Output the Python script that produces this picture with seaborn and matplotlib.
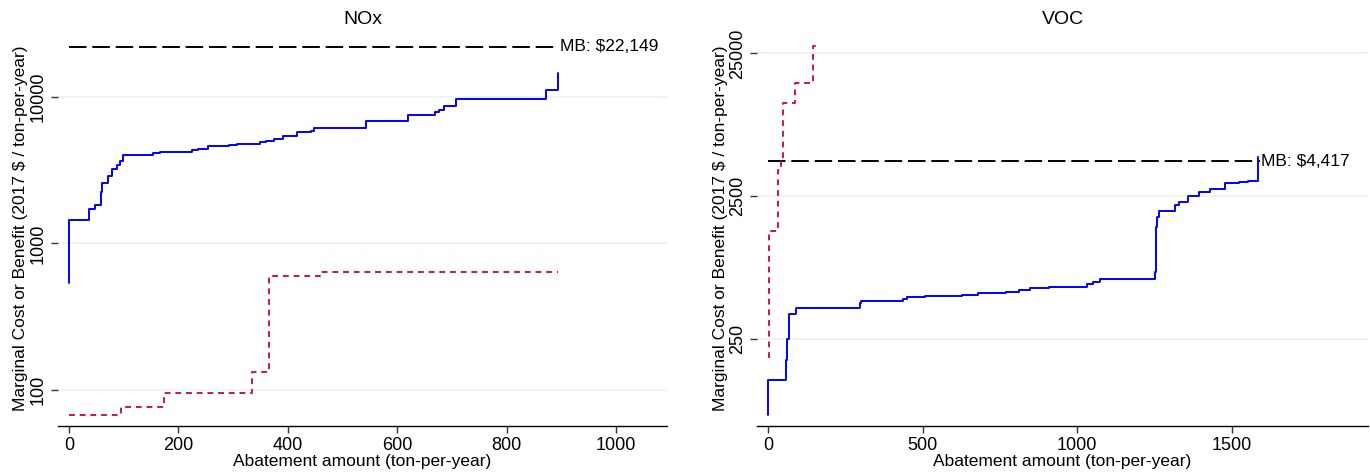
import numpy as np
import pandas as pd
import matplotlib
matplotlib.use("Agg")
import matplotlib.pyplot as plt
import seaborn as sns

# NOx marginal cost curve (step starts)
nox_cost_x = [0, 0, 36.6, 47, 59, 61, 71.5, 79, 87, 93.5, 98, 154.5, 167, 225, 236, 254, 293,
              306.5, 350, 360, 374, 392, 417, 443, 447, 542, 620, 654, 669, 676, 685, 707, 872, 893]
nox_cost_y = [535, 1452, 1718, 1843, 2235, 2588, 2877, 3200, 3424, 3646, 4010, 4160, 4228, 4339,
              4430, 4596, 4692, 4766, 4920, 5024, 5212, 5462, 5758, 5912, 6195, 6849, 7490, 7600,
              7937, 8148, 8676, 9640, 11160, 14690]
nox_alt_x = [0, 95, 173, 335, 366, 459, 894]
nox_alt_y = [67, 75.7, 94.4, 132.8, 594, 637, 637]
nox_mb = 22149
nox_max = 894

# VOC marginal cost curve
voc_cost_x = [0, 0, 57, 60, 67, 88, 298, 300, 436, 450, 507, 628, 678, 770, 812, 848, 909, 1033,
              1051, 1075, 1253, 1256, 1260, 1265, 1317, 1331, 1359, 1395, 1430, 1480, 1523, 1554, 1587]
voc_cost_y = [74, 131, 179, 250, 376, 412, 447, 466, 479, 497, 505, 510, 524, 536, 553, 574, 583,
              606, 632, 656, 743, 1533, 1803, 1985, 2175, 2271, 2514, 2668, 2815, 3085, 3171, 3203, 4700]
voc_alt_x = [3, 3, 32, 40, 48, 87, 145, 162]
voc_alt_y = [184, 1430, 3820, 4490, 11300, 15600, 28100, 28100]
voc_mb = 4417
voc_max = 1591

sns.set_style("white")
plt.rcParams['font.family'] = ['Liberation Sans', 'DejaVu Sans']
plt.rcParams['font.size'] = 12.5
plt.rcParams['text.color'] = 'black'
plt.rcParams['axes.labelcolor'] = 'black'
plt.rcParams['xtick.color'] = 'black'
plt.rcParams['ytick.color'] = 'black'

fig = plt.figure(figsize=(13.7, 4.74), dpi=100)
ax1 = fig.add_axes([58/1370, 1 - 426/474, 609/1370, 396/474])
ax2 = fig.add_axes([757/1370, 1 - 426/474, 611/1370, 396/474])

panels = [
    (ax1, "NOx", nox_cost_x, nox_cost_y, nox_alt_x, nox_alt_y, nox_mb, nox_max,
     (-20, 1093), (56.4, 28770), [0, 200, 400, 600, 800, 1000], [100, 1000, 10000]),
    (ax2, "VOC", voc_cost_x, voc_cost_y, voc_alt_x, voc_alt_y, voc_mb, voc_max,
     (-37, 1942), (62, 36400), [0, 500, 1000, 1500], [250, 2500, 25000]),
]

for ax, title, cx, cy, ax_, ay, mb, mx, xl, yl, xt, yt in panels:
    ax.set_yscale("log")
    for v in yt:
        ax.axhline(v, color="#eaf2f3", lw=1.2, zorder=0)
    mb_df = pd.DataFrame({"x": [0, mx], "y": [mb, mb]})
    sns.lineplot(data=mb_df, x="x", y="y", ax=ax, color="black", lw=1.4,
                 linestyle=(0, (9, 3)), sort=False, estimator=None)
    cost_df = pd.DataFrame({"x": cx, "y": cy})
    sns.lineplot(data=cost_df, x="x", y="y", ax=ax, color="#0000ff", lw=1.4,
                 drawstyle="steps-post", sort=False, estimator=None)
    alt_df = pd.DataFrame({"x": ax_, "y": ay})
    sns.lineplot(data=alt_df, x="x", y="y", ax=ax, color="#d4143c", lw=1.4,
                 linestyle=(0, (3, 2.5)), drawstyle="steps-post", sort=False, estimator=None)
    ax.annotate(f"MB: ${mb:,}", (mx, mb), xytext=(1, 0), textcoords="offset points",
                ha="left", va="center", fontsize=12.5)
    ax.set_xlim(*xl)
    ax.set_ylim(*yl)
    ax.set_xticks(xt)
    ax.set_yticks(yt)
    ax.set_yticklabels([str(v) for v in yt], rotation=90, va="center")
    ax.minorticks_off()
    ax.tick_params(axis="both", direction="out", length=5, width=1, color="#333333",
                   labelsize=13, pad=3, left=True, bottom=True)
    for s in ["top", "right", "left"]:
        ax.spines[s].set_visible(False)
    ax.spines["bottom"].set_color("black")
    ax.spines["bottom"].set_linewidth(1)
    ax.set_title(title, fontsize=14, pad=4)
    ax.set_xlabel("Abatement amount (ton-per-year)", fontsize=12.5, labelpad=0)
    ax.set_ylabel("Marginal Cost or Benefit (2017 $ / ton-per-year)", fontsize=12.5, labelpad=1)

fig.savefig("out.png", dpi=100)
